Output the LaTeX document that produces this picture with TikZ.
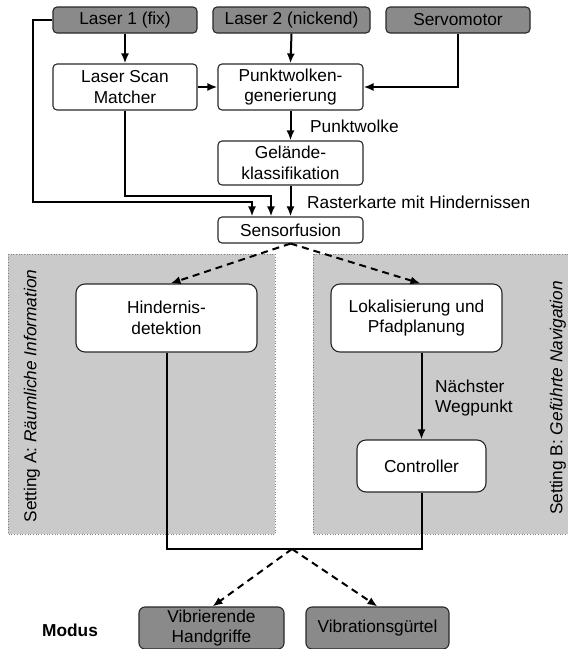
\documentclass[tikz,border=0pt]{standalone}
\usepackage{fontspec}
\setmainfont{Liberation Sans}
\usetikzlibrary{arrows.meta}
\definecolor{boxgray}{RGB}{138,138,138}
\definecolor{panelgray}{RGB}{202,202,202}
\definecolor{edgecol}{RGB}{40,40,40}
\begin{document}
\begin{tikzpicture}[x=1pt,y=-1pt,
  every node/.style={font=\fontsize{17.3}{20.5}\selectfont, inner sep=0pt},
  basebox/.style={draw=edgecol, line width=1.1pt, align=center},
  inbox/.style={basebox, fill=boxgray, rounded corners=4pt},
  procbox/.style={basebox, fill=white, rounded corners=4pt},
  bigbox/.style={basebox, fill=white, rounded corners=9pt},
  outbox/.style={basebox, fill=boxgray, rounded corners=6pt},
  panel/.style={fill=panelgray, draw=gray, line width=0.7pt, dotted},
  arr/.style={line width=2pt, -{Latex[length=10pt,width=8pt]}},
  conn/.style={line width=2pt},
  darr/.style={line width=2pt, dash pattern=on 7pt off 5pt, -{Latex[length=10pt,width=8pt]}},
  lbl/.style={anchor=west, align=left}
]
\useasboundingbox (0,0) rectangle (568,649);
% panels
\path[panel] (8,254) rectangle (275,534);
\path[panel] (313,254) rectangle (575,534);
\node[rotate=90] (setA) at (32,396) {Setting A: \textit{Räumliche Information}};
\node[rotate=90] (setB) at (558,398) {Setting B: \textit{Geführte Navigation}};

% nodes
\node[inbox, minimum width=144, minimum height=26] (l1) at (125,20) {Laser 1 (fix)};
\node[inbox, minimum width=157, minimum height=26] (l2) at (291.5,20) {Laser 2 (nickend)};
\node[inbox, minimum width=144, minimum height=26] (servo) at (458,20) {Servomotor};
\node[procbox, minimum width=144, minimum height=46] (lsm) at (125,87) {Laser Scan\\Matcher};
\node[procbox, minimum width=145, minimum height=46] (pw) at (290.5,87) {Punktwolken-\\generierung};
\node[procbox, minimum width=145, minimum height=44] (gk) at (290.5,163) {Gelände-\\klassifikation};
\node[procbox, minimum width=145, minimum height=26] (sf) at (290.5,230) {Sensorfusion};
\node[bigbox, minimum width=181, minimum height=68] (hd) at (166.5,318) {Hindernis-\\detektion};
\node[bigbox, minimum width=171, minimum height=68] (lp) at (416.5,318) {Lokalisierung und\\Pfadplanung};
\node[bigbox, minimum width=129, minimum height=52] (ct) at (421.5,466) {Controller};
\node[outbox, minimum width=145, minimum height=42] (vh) at (211.5,628) {Vibrierende\\Handgriffe};
\node[outbox, minimum width=143, minimum height=42] (vg) at (377.5,628) {Vibrationsgürtel};
\node (modus) at (70,630) {\bfseries Modus};

% labels
\node[lbl] (lpw) at (310,126) {Punktwolke};
\node[lbl] (lrk) at (307,202) {Rasterkarte mit Hindernissen};
\node[lbl] (lnw) at (435,398) {Nächster\\Wegpunkt};

% connectors
\draw[arr] (l1.south) -- (lsm.north);
\draw[arr] (l2.south) -- (pw.north);
\draw[arr] (servo.south) |- (pw.east);
\draw[arr] (lsm.east) -- (pw.west);
\draw[arr] (pw.south) -- (gk.north);
\draw[arr] (gk.south) -- (sf.north);
\draw[arr] (l1.west) -- (33,20) -- (33,202) -| ([xshift=-38.5]sf.north);
\draw[arr] (lsm.south) -- (125,196) -| ([xshift=-19.5]sf.north);
\draw[darr] (sf.south) -- ([xshift=4]hd.north);
\draw[darr] (sf.south) -- ([xshift=4]lp.north);
\draw[arr] ([xshift=5]lp.south) -- ([xshift=0]ct.north);
\coordinate (junc) at (292,549);
\draw[conn] (hd.south) -- (hd.south |- junc) -- (ct.south |- junc) -- (ct.south);
\draw[darr] (junc) -- ([xshift=1]vh.north);
\draw[darr] (junc) -- (vg.north);
\end{tikzpicture}
\end{document}
